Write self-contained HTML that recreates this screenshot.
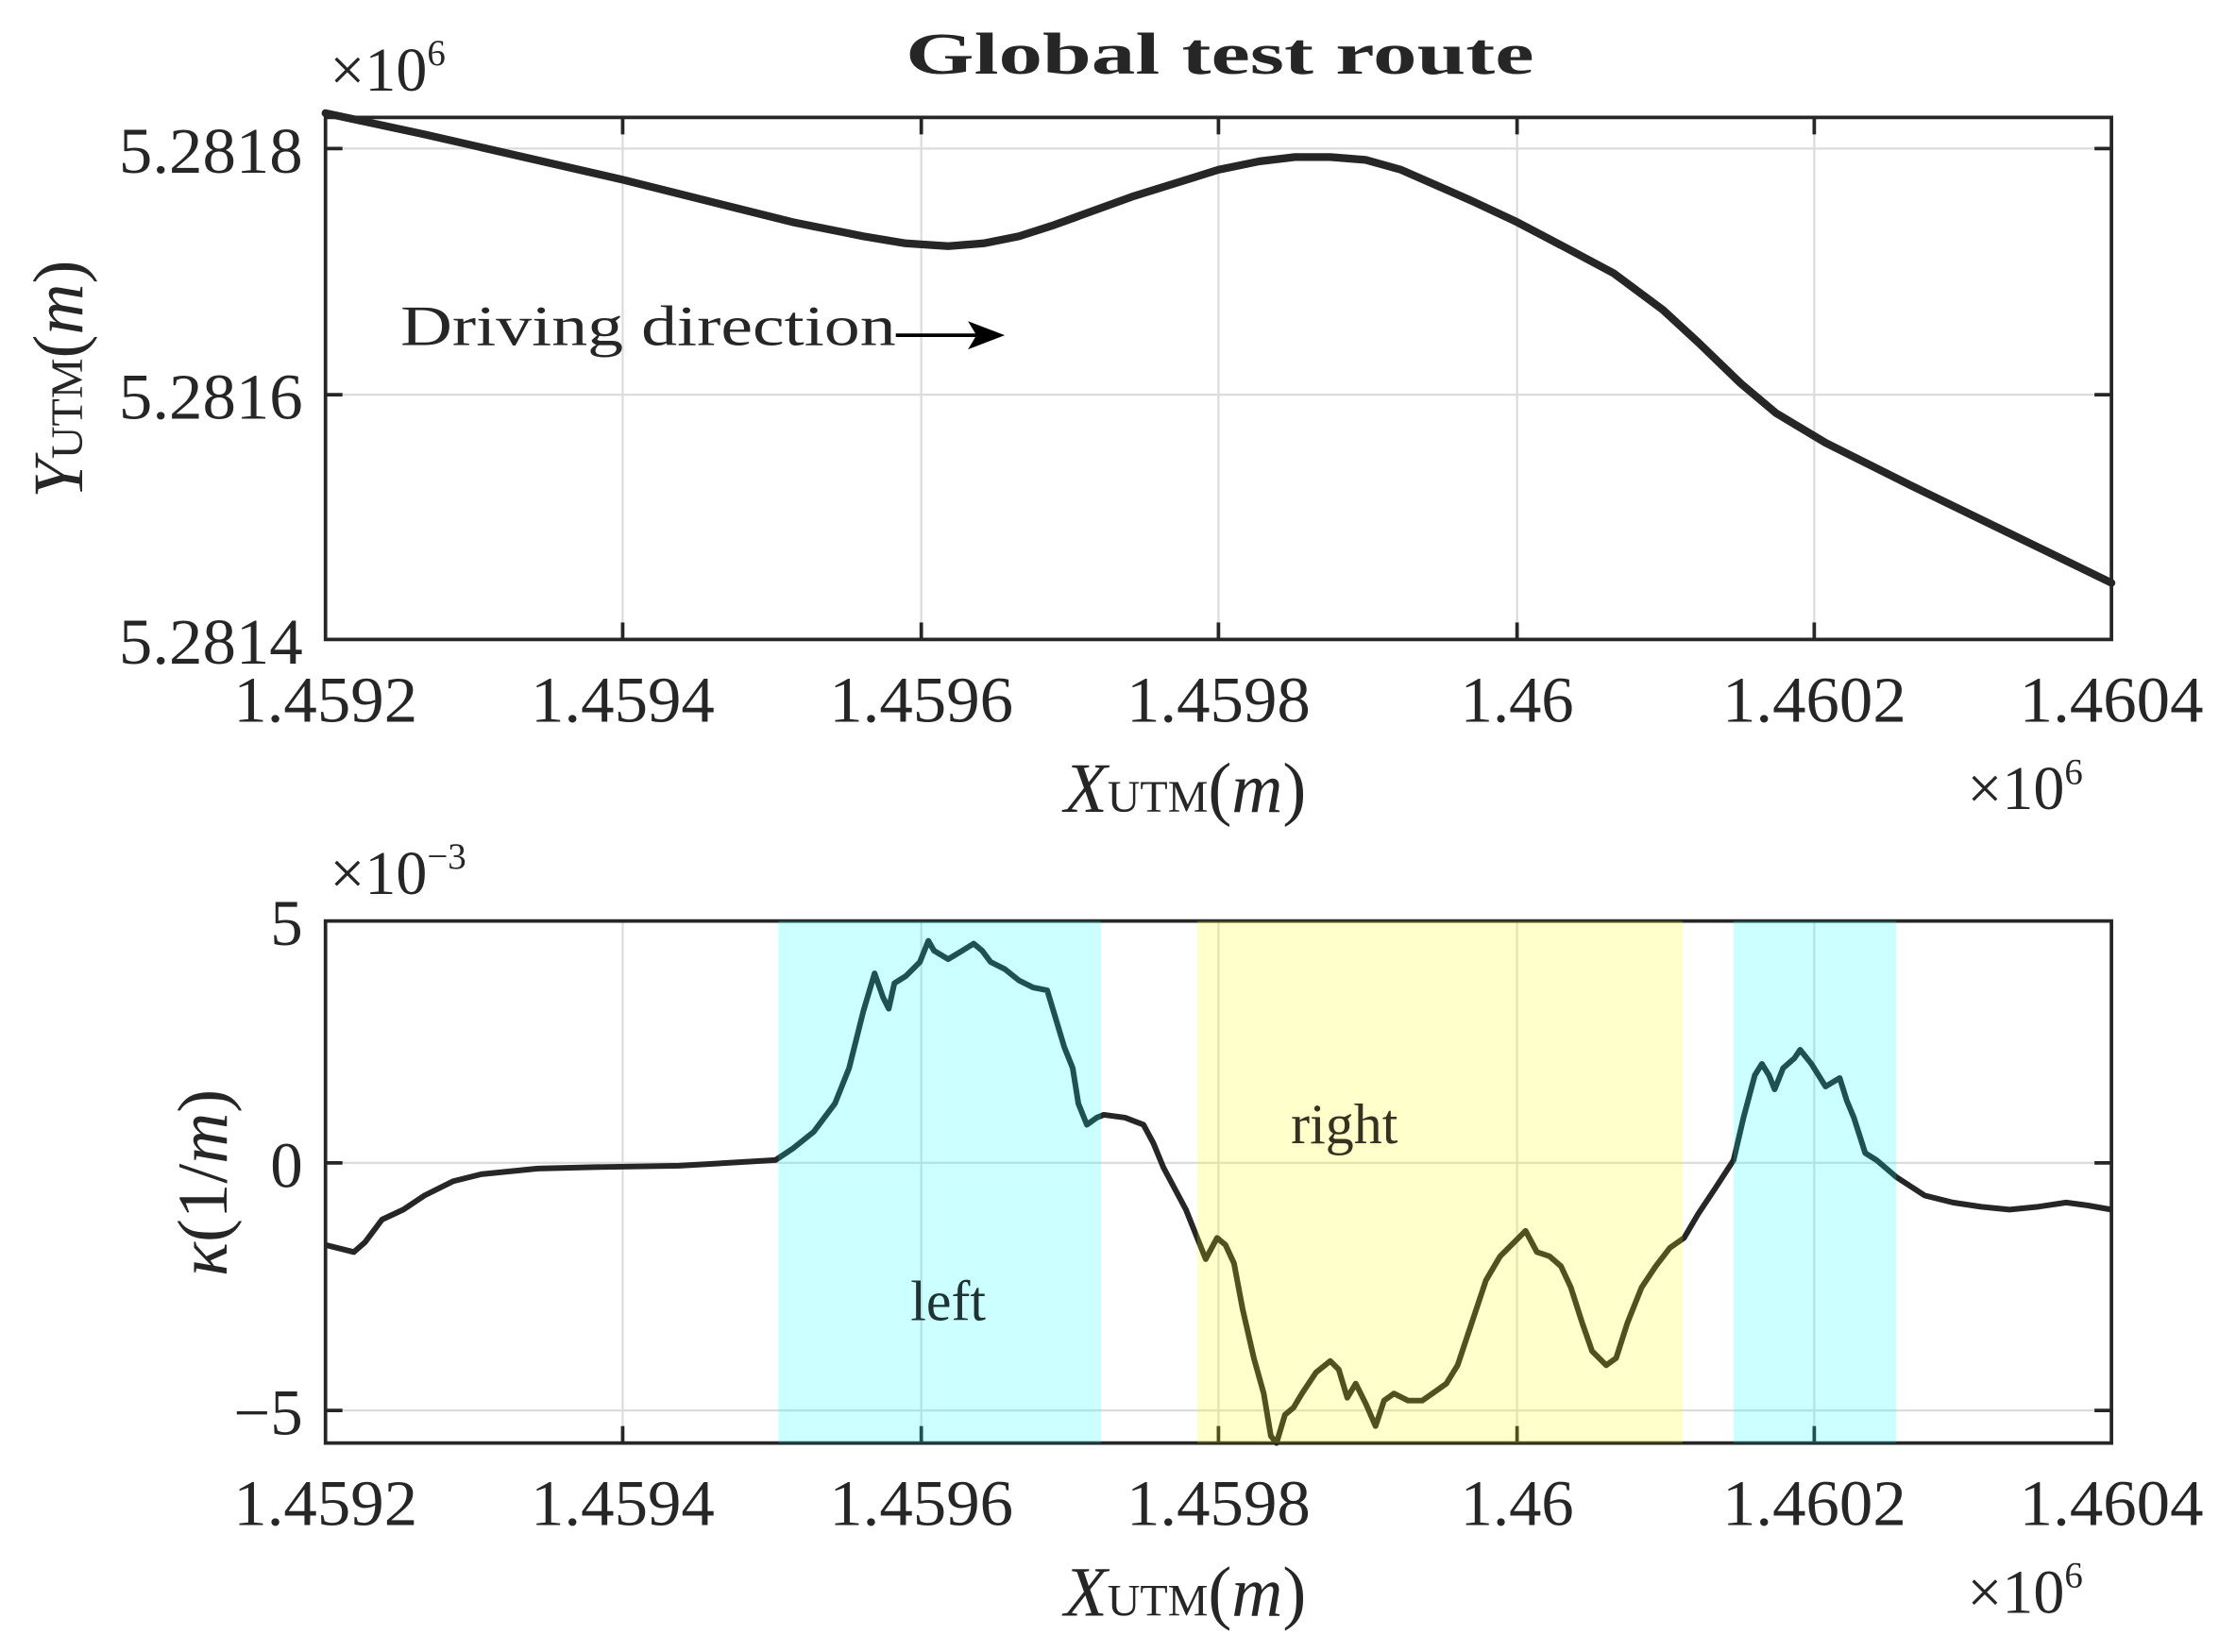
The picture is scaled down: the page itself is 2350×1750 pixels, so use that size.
<!DOCTYPE html>
<html><head><meta charset="utf-8"><style>
html,body{margin:0;padding:0;background:#fff;}
svg{display:block;}
text{font-family:"Liberation Serif",serif;fill:#262626;}
</style></head><body>
<svg width="2350" height="1750" viewBox="0 0 1568 1167.7" preserveAspectRatio="none" xmlns="http://www.w3.org/2000/svg">
<rect width="1568" height="1168" fill="#fff"/>
<text x="862" y="52" font-size="42" font-weight="bold" text-anchor="middle" textLength="444" lengthAdjust="spacingAndGlyphs">Global test route</text>
<text x="233" y="64" font-size="44">×10<tspan font-size="26" dy="-18">6</tspan></text>
<g stroke="#dcdcdc" stroke-width="1.5">
<line x1="440" y1="83" x2="440" y2="452"/><line x1="651" y1="83" x2="651" y2="452"/><line x1="861" y1="83" x2="861" y2="452"/><line x1="1072" y1="83" x2="1072" y2="452"/><line x1="1282" y1="83" x2="1282" y2="452"/>
<line x1="230" y1="105" x2="1492" y2="105"/><line x1="230" y1="279" x2="1492" y2="279"/>
</g>
<g stroke="#262626" stroke-width="2.5">
<line x1="440" y1="452" x2="440" y2="440"/><line x1="651" y1="452" x2="651" y2="440"/><line x1="861" y1="452" x2="861" y2="440"/><line x1="1072" y1="452" x2="1072" y2="440"/><line x1="1282" y1="452" x2="1282" y2="440"/>
<line x1="440" y1="83" x2="440" y2="95"/><line x1="651" y1="83" x2="651" y2="95"/><line x1="861" y1="83" x2="861" y2="95"/><line x1="1072" y1="83" x2="1072" y2="95"/><line x1="1282" y1="83" x2="1282" y2="95"/>
<line x1="230" y1="105" x2="242" y2="105"/><line x1="1492" y1="105" x2="1480" y2="105"/><line x1="230" y1="279" x2="242" y2="279"/><line x1="1492" y1="279" x2="1480" y2="279"/>
</g>
<rect x="230" y="83" width="1262" height="369" fill="none" stroke="#262626" stroke-width="2.5"/>
<polyline fill="none" stroke="#262626" stroke-width="5.5" stroke-linejoin="round" stroke-linecap="round" points="230,80 300,95 440,127 560,157 610,167 640,172 670,174 695,172 720,167 745,159 800,139 861,120 890,114 915,111 940,111 965,113 990,120 1015,131 1040,142 1072,157 1110,177 1140,193 1175,219 1200,242 1230,271 1255,292 1290,313 1350,343 1420,377 1492,412"/>
<text x="283" y="244" font-size="40" textLength="350" lengthAdjust="spacingAndGlyphs">Driving direction</text>
<line x1="633" y1="237" x2="695" y2="237" stroke="#000" stroke-width="2.5"/>
<path d="M710,237 L684,227 L690,237 L684,247 Z" fill="#000"/>
<g font-size="46" text-anchor="end">
<text x="214" y="122" textLength="130" lengthAdjust="spacingAndGlyphs">5.2818</text>
<text x="214" y="296" textLength="130" lengthAdjust="spacingAndGlyphs">5.2816</text>
<text x="214" y="469" textLength="130" lengthAdjust="spacingAndGlyphs">5.2814</text>
</g>
<g font-size="46" text-anchor="middle">
<text x="230" y="510" textLength="130" lengthAdjust="spacingAndGlyphs">1.4592</text>
<text x="440" y="510" textLength="130" lengthAdjust="spacingAndGlyphs">1.4594</text>
<text x="651" y="510" textLength="130" lengthAdjust="spacingAndGlyphs">1.4596</text>
<text x="861" y="510" textLength="130" lengthAdjust="spacingAndGlyphs">1.4598</text>
<text x="1072" y="510" textLength="80" lengthAdjust="spacingAndGlyphs">1.46</text>
<text x="1282" y="510" textLength="130" lengthAdjust="spacingAndGlyphs">1.4602</text>
<text x="1492" y="510" textLength="130" lengthAdjust="spacingAndGlyphs">1.4604</text>
</g>
<text x="752" y="574" font-size="50"><tspan font-style="italic">X</tspan><tspan font-size="32">UTM</tspan>(<tspan font-style="italic">m</tspan>)</text>
<text x="1390" y="572" font-size="44">×10<tspan font-size="26" dy="-18">6</tspan></text>
<text transform="translate(58,268) rotate(-90)" font-size="50" text-anchor="middle"><tspan font-style="italic">Y</tspan><tspan font-size="32">UTM</tspan>(<tspan font-style="italic">m</tspan>)</text>

<text x="233" y="632" font-size="44">×10<tspan font-size="26" dy="-18">−3</tspan></text>
<g stroke="#dcdcdc" stroke-width="1.5">
<line x1="440" y1="651" x2="440" y2="1020"/><line x1="651" y1="651" x2="651" y2="1020"/><line x1="861" y1="651" x2="861" y2="1020"/><line x1="1072" y1="651" x2="1072" y2="1020"/><line x1="1282" y1="651" x2="1282" y2="1020"/>
<line x1="230" y1="822" x2="1492" y2="822"/><line x1="230" y1="997" x2="1492" y2="997"/>
</g>
<g stroke="#262626" stroke-width="2.5">
<line x1="440" y1="1020" x2="440" y2="1008"/><line x1="651" y1="1020" x2="651" y2="1008"/><line x1="861" y1="1020" x2="861" y2="1008"/><line x1="1072" y1="1020" x2="1072" y2="1008"/><line x1="1282" y1="1020" x2="1282" y2="1008"/>
<line x1="230" y1="822" x2="242" y2="822"/><line x1="1492" y1="822" x2="1480" y2="822"/><line x1="230" y1="997" x2="242" y2="997"/><line x1="1492" y1="997" x2="1480" y2="997"/>
</g>
<rect x="230" y="651" width="1262" height="369" fill="none" stroke="#262626" stroke-width="2.5"/>
<polyline fill="none" stroke="#262626" stroke-width="4" stroke-linejoin="round" points="230,880 250,885 258,878 270,862 285,855 300,845 320,835 340,830 380,826 420,825 480,824 548,820 560,812 575,800 590,780 600,755 610,715 618,688 624,705 628,713 632,695 640,690 650,680 656,665 660,672 670,678 680,672 688,667 694,672 700,680 710,685 720,693 730,698 740,700 746,720 752,740 758,755 762,780 768,795 775,790 780,788 795,790 808,795 815,808 822,825 830,840 838,855 846,875 852,890 860,875 866,880 872,893 878,925 886,960 893,985 898,1015 902,1020 908,1000 914,995 920,985 930,970 940,962 946,968 952,988 958,978 965,992 972,1008 978,990 985,985 995,990 1005,990 1015,983 1022,978 1030,965 1040,935 1050,905 1060,888 1070,878 1078,870 1086,885 1095,888 1103,895 1110,910 1118,935 1125,955 1135,965 1142,960 1150,935 1160,910 1170,895 1180,882 1190,875 1200,858 1212,840 1225,820 1232,790 1240,760 1245,752 1250,760 1254,770 1260,755 1268,748 1272,742 1280,752 1290,768 1300,762 1305,778 1310,790 1318,815 1326,820 1340,832 1360,845 1380,850 1400,853 1420,855 1440,853 1460,850 1475,852 1492,855"/>
<rect x="550" y="651" width="228" height="369" fill="#00ffff" fill-opacity="0.2"/>
<rect x="846" y="651" width="343" height="369" fill="#ffff00" fill-opacity="0.2"/>
<rect x="1225" y="651" width="115" height="369" fill="#00ffff" fill-opacity="0.2"/>
<text x="670" y="933" font-size="40" text-anchor="middle" style="fill:#1f3333">left</text>
<text x="950" y="808" font-size="40" text-anchor="middle" style="fill:#33331f">right</text>
<g font-size="46" text-anchor="end">
<text x="214" y="668">5</text>
<text x="214" y="839">0</text>
<text x="214" y="1014">−5</text>
</g>
<g font-size="46" text-anchor="middle">
<text x="230" y="1078" textLength="130" lengthAdjust="spacingAndGlyphs">1.4592</text>
<text x="440" y="1078" textLength="130" lengthAdjust="spacingAndGlyphs">1.4594</text>
<text x="651" y="1078" textLength="130" lengthAdjust="spacingAndGlyphs">1.4596</text>
<text x="861" y="1078" textLength="130" lengthAdjust="spacingAndGlyphs">1.4598</text>
<text x="1072" y="1078" textLength="80" lengthAdjust="spacingAndGlyphs">1.46</text>
<text x="1282" y="1078" textLength="130" lengthAdjust="spacingAndGlyphs">1.4602</text>
<text x="1492" y="1078" textLength="130" lengthAdjust="spacingAndGlyphs">1.4604</text>
</g>
<text x="752" y="1142" font-size="50"><tspan font-style="italic">X</tspan><tspan font-size="32">UTM</tspan>(<tspan font-style="italic">m</tspan>)</text>
<text x="1390" y="1140" font-size="44">×10<tspan font-size="26" dy="-18">6</tspan></text>
<text transform="translate(160,836) rotate(-90)" font-size="50" text-anchor="middle"><tspan font-style="italic">κ</tspan>(1/<tspan font-style="italic">m</tspan>)</text>
</svg>
</body></html>
